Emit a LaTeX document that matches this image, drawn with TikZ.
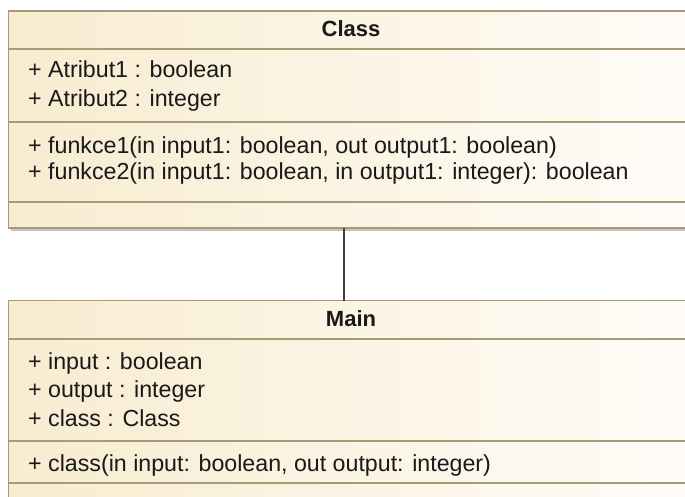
\documentclass[tikz,border=0pt]{standalone}
\usepackage{fontspec}
\setmainfont{Liberation Sans}
\definecolor{umlborder}{HTML}{A89A74}
\definecolor{umlleft}{HTML}{F8ECD0}
\definecolor{umlright}{HTML}{FFFDF9}
\definecolor{umlshadow}{HTML}{C8C4BC}
\begin{document}
\begin{tikzpicture}[x=1pt,y=-1pt,
  umlbox/.style={draw=umlborder, line width=1.6pt, left color=umlleft, right color=umlright, anchor=north west, inner sep=0pt, outer sep=0pt},
  umlline/.style={draw=umlborder, line width=1.6pt},
  shadowbox/.style={fill=umlshadow, draw=none},
  txt/.style={anchor=base west, inner sep=0pt, font=\fontsize{23.2}{28}\selectfont, text=black!90},
  ttl/.style={anchor=base, inner sep=0pt, font=\fontsize{22}{26}\selectfont\bfseries, text=black!90},
  conn/.style={draw=black!75, line width=1.4pt}]
\useasboundingbox (0,0) rectangle (685,497);
\clip (0,0) rectangle (685,497);
\fill[white] (0,0) rectangle (685,497);
% Class box
\fill[shadowbox] (10.5,14) rectangle (705,231);
\node[umlbox, minimum width=696pt, minimum height=217pt] (cls) at (8.5,11) {};
\draw[umlline] (8.5,49) -- (705,49);
\draw[umlline] (8.5,122) -- (705,122);
\draw[umlline] (8.5,202) -- (705,202);
\node[ttl] (clsname) at (351,37) {Class};
\node[txt] (a1) at (28,78) {+ Atribut1 : boolean};
\node[txt] (a2) at (28,107) {+ Atribut2 : integer};
\node[txt] (f1) at (28,154) {+ funkce1(in input1: boolean, out output1: boolean)};
\node[txt] (f2) at (28,180) {+ funkce2(in input1: boolean, in output1: integer): boolean};
% Main box
\fill[shadowbox] (10.5,303.5) rectangle (705,520);
\node[umlbox, minimum width=696pt, minimum height=220pt] (main) at (8.5,300.5) {};
\draw[umlline] (8.5,339) -- (705,339);
\draw[umlline] (8.5,441) -- (705,441);
\draw[umlline] (8.5,483) -- (705,483);
\node[ttl] (mainname) at (351,326.5) {Main};
\node[txt] (m1) at (28,369) {+ input : boolean};
\node[txt] (m2) at (28,397) {+ output : integer};
\node[txt] (m3) at (28,426) {+ class : Class};
\node[txt] (o1) at (28,471.5) {+ class(in input: boolean, out output: integer)};
% connector
\coordinate (lx) at (344,0);
\draw[conn] (cls.south -| lx) -- (main.north -| lx);
\end{tikzpicture}
\end{document}
